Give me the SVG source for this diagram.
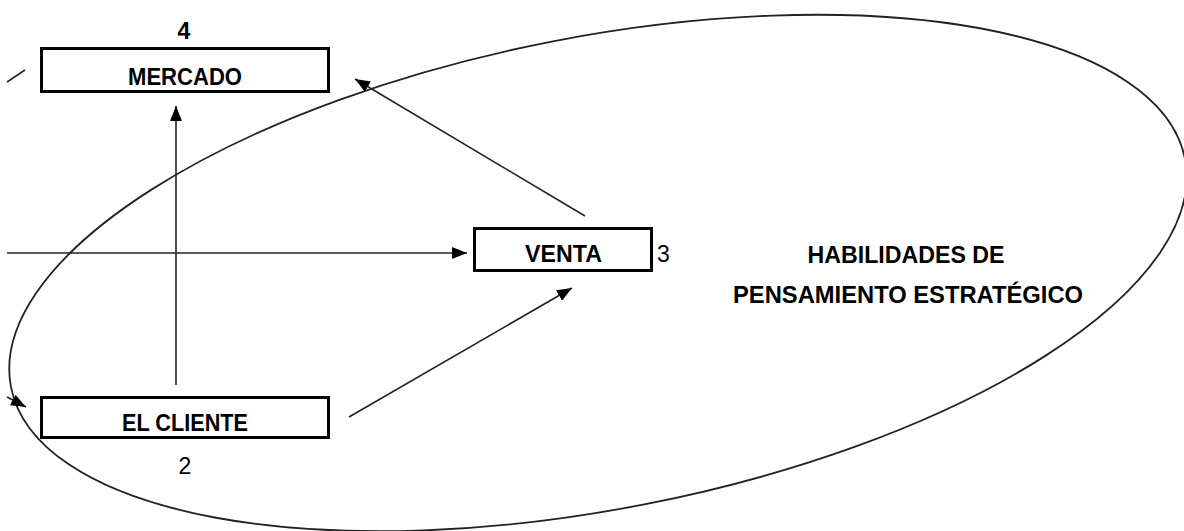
<svg xmlns="http://www.w3.org/2000/svg" width="1184" height="531" viewBox="0 0 1184 531">
<style>
.box{fill:#fff;stroke:#000;stroke-width:3}
.lbl{font-family:"Liberation Sans",Arial,sans-serif;font-weight:bold;font-size:23px;fill:#000;text-anchor:middle}
.num{font-family:"Liberation Sans",Arial,sans-serif;font-size:23px;fill:#000}
.big{font-family:"Liberation Sans",Arial,sans-serif;font-weight:bold;font-size:24px;fill:#000;text-anchor:middle}
.con{fill:none;stroke:#222;stroke-width:1.6}
</style>
<defs>
<marker id="ah" markerUnits="userSpaceOnUse" markerWidth="16" markerHeight="12" refX="15" refY="6" orient="auto">
<path d="M0,0 L15,6 L0,12 z" fill="#000"/>
</marker>
</defs>
<rect width="1184" height="531" fill="#fff"/>
<g id="ellipse">
<ellipse cx="598" cy="273" rx="598" ry="236" transform="rotate(-11 598 273)" fill="none" stroke="#222" stroke-width="1.8"/>
</g>
<g id="connectors">
<line class="con" x1="176" y1="385" x2="176" y2="106" marker-end="url(#ah)"/>
<line class="con" x1="7" y1="253" x2="467" y2="253" marker-end="url(#ah)"/>
<line class="con" x1="585" y1="216" x2="355" y2="79" marker-end="url(#ah)"/>
<line class="con" x1="349" y1="417" x2="572" y2="288" marker-end="url(#ah)"/>
<line class="con" x1="7" y1="397" x2="26" y2="407" marker-end="url(#ah)"/>
<line class="con" x1="7" y1="82" x2="25" y2="70"/>
</g>
<g id="mercado">
<rect class="box" x="41.5" y="48.5" width="287" height="43"/>
<text class="lbl" x="185" y="85" textLength="114" lengthAdjust="spacingAndGlyphs">MERCADO</text>
<text class="num" x="184" y="39" font-weight="bold" font-size="20" text-anchor="middle">4</text>
</g>
<g id="cliente">
<rect class="box" x="41.5" y="397.5" width="287" height="40"/>
<text class="lbl" x="185" y="431" textLength="126" lengthAdjust="spacingAndGlyphs">EL CLIENTE</text>
<text class="num" x="185" y="474" text-anchor="middle">2</text>
</g>
<g id="venta">
<rect class="box" x="474.5" y="228.5" width="177" height="42"/>
<text class="lbl" x="563.5" y="262" textLength="77" lengthAdjust="spacingAndGlyphs">VENTA</text>
<text class="num" x="657" y="262">3</text>
</g>
<g id="habilidades">
<text class="big" x="906" y="263" textLength="197" lengthAdjust="spacingAndGlyphs">HABILIDADES DE</text>
<text class="big" x="908" y="303" textLength="350" lengthAdjust="spacingAndGlyphs">PENSAMIENTO ESTRATÉGICO</text>
</g>
</svg>
